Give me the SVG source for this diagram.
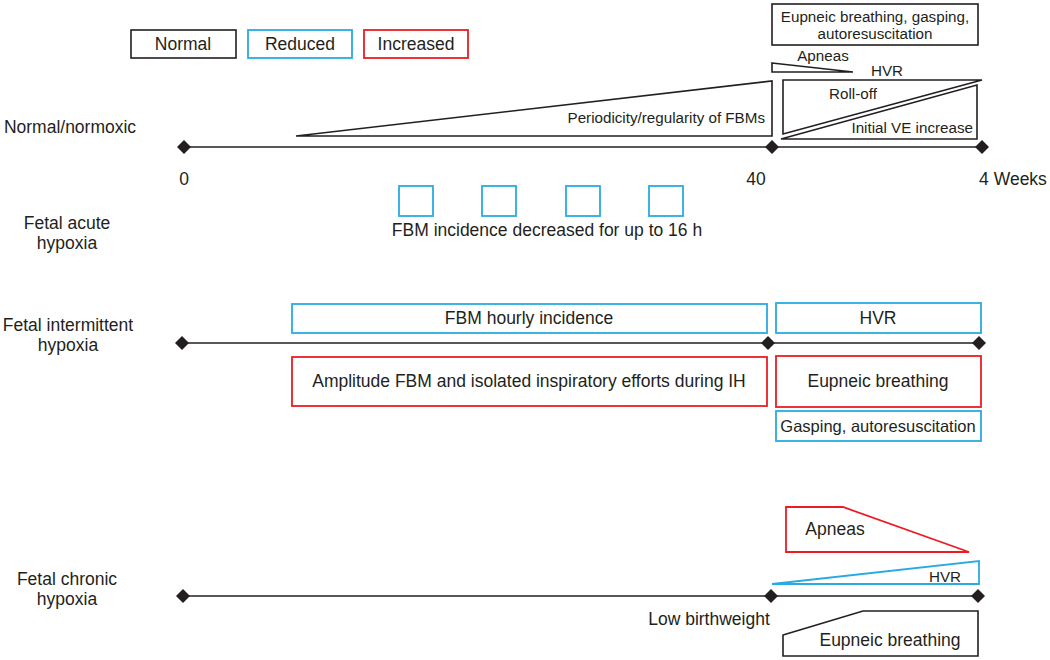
<svg xmlns="http://www.w3.org/2000/svg" width="1050" height="660" viewBox="0 0 1050 660">
<defs>
<style>
text{font-family:"Liberation Sans",Arial,sans-serif;fill:#231f20;}
.t17{font-size:17.5px;text-anchor:middle;}
.t16{font-size:16.5px;text-anchor:middle;}
.t15{font-size:15.2px;text-anchor:middle;}
.blk{fill:none;stroke:#231f20;stroke-width:1.6;}
.blu{fill:none;stroke:#29abe2;stroke-width:1.8;}
.red{fill:none;stroke:#ed1c24;stroke-width:1.8;}
.axis{stroke:#231f20;stroke-width:1.6;fill:none;}
.dia{fill:#231f20;}
</style>
<path id="d" d="M0,-7 L7,0 L0,7 L-7,0 Z"/>
</defs>
<rect width="1050" height="660" fill="#ffffff"/>

<g id="legend">
<rect class="blk" x="131" y="30" width="105" height="28"/>
<text class="t17" x="183" y="50">Normal</text>
<rect class="blu" x="248" y="30" width="104" height="28"/>
<text class="t17" x="300" y="50">Reduced</text>
<rect class="red" x="364" y="30" width="104" height="28"/>
<text class="t17" x="416" y="50">Increased</text>
</g>

<g id="row-labels">
<text class="t17" x="70" y="133">Normal/normoxic</text>
<text class="t17" x="67" y="229">Fetal acute</text>
<text class="t17" x="67" y="249">hypoxia</text>
<text class="t17" x="68" y="331">Fetal intermittent</text>
<text class="t17" x="68" y="351">hypoxia</text>
<text class="t17" x="67" y="585">Fetal chronic</text>
<text class="t17" x="67" y="605">hypoxia</text>
</g>

<g id="connectors">
<line class="axis" x1="184" y1="147" x2="982" y2="147"/>
<line class="axis" x1="182" y1="343" x2="979" y2="343"/>
<line class="axis" x1="183" y1="596" x2="978" y2="596"/>
<use href="#d" class="dia" x="184" y="147"/>
<use href="#d" class="dia" x="772" y="147"/>
<use href="#d" class="dia" x="982" y="147"/>
<use href="#d" class="dia" x="182" y="343"/>
<use href="#d" class="dia" x="768" y="343"/>
<use href="#d" class="dia" x="979" y="343"/>
<use href="#d" class="dia" x="183" y="596"/>
<use href="#d" class="dia" x="771" y="596"/>
<use href="#d" class="dia" x="978" y="596"/>
</g>

<g id="axis-labels">
<text class="t17" x="184" y="185">0</text>
<text class="t17" x="756" y="185">40</text>
<text class="t17" x="1013" y="185">4 Weeks</text>
</g>

<g id="normal-periodicity">
<polygon class="blk" points="296,136 772,136 772,81"/>
<text class="t15" x="765" y="123" style="text-anchor:end">Periodicity/regularity of FBMs</text>
</g>

<g id="normal-eupneic">
<rect class="blk" x="772" y="4" width="206" height="41"/>
<text class="t15" x="875" y="21.5">Eupneic breathing, gasping,</text>
<text class="t15" x="875" y="38.5">autoresuscitation</text>
</g>

<g id="normal-apneas">
<polygon class="blk" points="772,63 853,72 772,72"/>
<text class="t15" x="823" y="61">Apneas</text>
</g>

<g id="normal-hvr">
<polygon class="blk" points="783,80 982,80 783,134"/>
<text class="t15" x="887" y="76">HVR</text>
<text class="t15" x="853" y="99">Roll-off</text>
</g>

<g id="normal-ve">
<polygon class="blk" points="781,139 977,85 977,139"/>
<text class="t15" x="973" y="133" style="text-anchor:end">Initial VE increase</text>
</g>

<g id="acute-fbm">
<rect class="blu" x="399" y="186" width="34" height="30"/>
<rect class="blu" x="482" y="186" width="34" height="30"/>
<rect class="blu" x="566" y="186" width="34" height="30"/>
<rect class="blu" x="649" y="186" width="34" height="30"/>
<text class="t17" x="547" y="236">FBM incidence decreased for up to 16 h</text>
</g>

<g id="ih-fbm-hourly">
<rect class="blu" x="292" y="304" width="475" height="29"/>
<text class="t17" x="529" y="324">FBM hourly incidence</text>
</g>

<g id="ih-hvr">
<rect class="blu" x="776" y="303" width="205" height="30"/>
<text class="t17" x="878" y="324">HVR</text>
</g>

<g id="ih-amplitude">
<rect class="red" x="292" y="357" width="475" height="49"/>
<text class="t17" x="529" y="387">Amplitude FBM and isolated inspiratory efforts during IH</text>
</g>

<g id="ih-eupneic">
<rect class="red" x="776" y="356" width="205" height="51"/>
<text class="t17" x="878" y="387">Eupneic breathing</text>
</g>

<g id="ih-gasping">
<rect class="blu" x="776" y="411" width="205" height="30"/>
<text class="t16" x="878" y="432">Gasping, autoresuscitation</text>
</g>

<g id="chronic-apneas">
<polygon class="red" points="786,507 843,507 969,552 786,552"/>
<text class="t17" x="835" y="535">Apneas</text>
</g>

<g id="chronic-hvr">
<polygon class="blu" points="772,584 979,561 979,584"/>
<text class="t15" x="945" y="581.5">HVR</text>
</g>

<g id="chronic-lbw">
<text class="t17" x="709" y="625">Low birthweight</text>
</g>

<g id="chronic-eupneic">
<polygon class="blk" points="783,635 863,611 978,611 978,656 783,656"/>
<text class="t17" x="890" y="646">Eupneic breathing</text>
</g>
</svg>
